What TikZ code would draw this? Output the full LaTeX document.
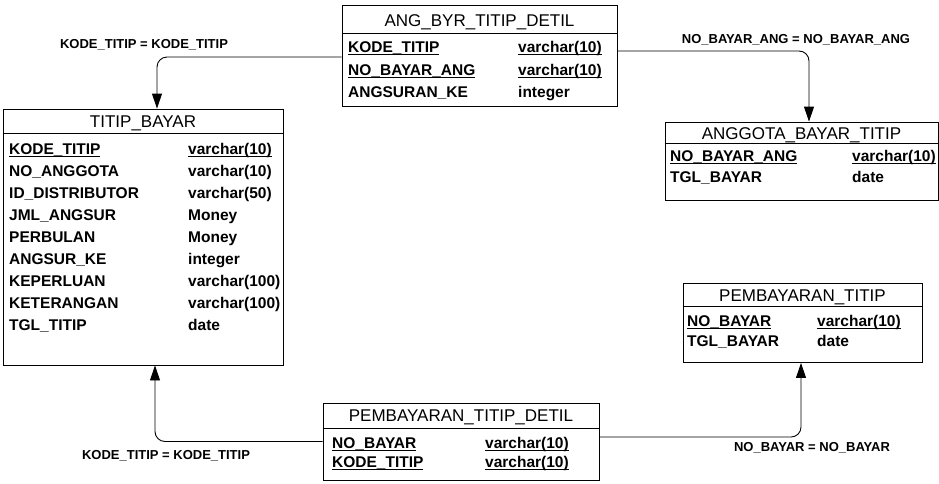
\documentclass[tikz,border=0pt]{standalone}
\usepackage{fontspec}
\setmainfont{Liberation Sans}
\usetikzlibrary{arrows.meta}
\newcommand\ulx[1]{\setbox0\hbox{#1}\rlap{\vrule width \wd0 height -1.6pt depth 2.7pt}\box0}
\begin{document}
\begin{tikzpicture}[x=1pt,y=-1pt,
  tbl/.style={draw, line width=0.9pt, inner sep=0pt, rectangle},
  ttl/.style={font=\fontsize{17}{19}\selectfont, inner sep=0pt, text height=12.2pt, text depth=0pt},
  fld/.style={font=\bfseries\fontsize{15.5}{18}\selectfont, anchor=west, inner sep=0pt, text height=11pt, text depth=0pt},
  lbl/.style={font=\bfseries\fontsize{13}{15}\selectfont, inner sep=0pt, text height=9.3pt, text depth=0pt},
  sepline/.style={line width=0.9pt},
  rel/.style={line width=0.9pt, rounded corners=10pt, -{Triangle[width=10pt,length=15pt]}}]
\useasboundingbox (0,0) rectangle (939,483);

% ANG_BYR_TITIP_DETIL
\node[tbl, minimum width=275pt, minimum height=101pt] (ang) at (479.5,55.5) {};
\draw[sepline] (ang.west |- 0,33) -- (ang.east |- 0,33);
\node[ttl] (angt) at (479.5,20) {ANG\_BYR\_TITIP\_DETIL};
\node[fld] (ang1) at (348,47) {\ulx{KODE\_TITIP}};
\node[fld] (ang1t) at (518,47) {\ulx{varchar(10)}};
\node[fld] (ang2) at (348,70) {\ulx{NO\_BAYAR\_ANG}};
\node[fld] (ang2t) at (518,70) {\ulx{varchar(10)}};
\node[fld] (ang3) at (348,92) {ANGSURAN\_KE};
\node[fld] (ang3t) at (518,92) {integer};

% TITIP_BAYAR
\node[tbl, minimum width=280pt, minimum height=256pt] (tb) at (143,237) {};
\draw[sepline] (tb.west |- 0,133) -- (tb.east |- 0,133);
\node[ttl] (tbt) at (143,121) {TITIP\_BAYAR};
\node[fld] (tb1) at (9,149) {\ulx{KODE\_TITIP}};
\node[fld] (tb1t) at (188,149) {\ulx{varchar(10)}};
\node[fld] (tb2) at (9,171) {NO\_ANGGOTA};
\node[fld] (tb2t) at (188,171) {varchar(10)};
\node[fld] (tb3) at (9,193) {ID\_DISTRIBUTOR};
\node[fld] (tb3t) at (188,193) {varchar(50)};
\node[fld] (tb4) at (9,215) {JML\_ANGSUR};
\node[fld] (tb4t) at (188,215) {Money};
\node[fld] (tb5) at (9,237) {PERBULAN};
\node[fld] (tb5t) at (188,237) {Money};
\node[fld] (tb6) at (9,259) {ANGSUR\_KE};
\node[fld] (tb6t) at (188,259) {integer};
\node[fld] (tb7) at (9,281) {KEPERLUAN};
\node[fld] (tb7t) at (188,281) {varchar(100)};
\node[fld] (tb8) at (9,303) {KETERANGAN};
\node[fld] (tb8t) at (188,303) {varchar(100)};
\node[fld] (tb9) at (9,325) {TGL\_TITIP};
\node[fld] (tb9t) at (188,325) {date};

% ANGGOTA_BAYAR_TITIP
\node[tbl, minimum width=273pt, minimum height=78pt] (ag) at (801.5,161) {};
\draw[sepline] (ag.west |- 0,143) -- (ag.east |- 0,143);
\node[ttl] (agt) at (801.5,133) {ANGGOTA\_BAYAR\_TITIP};
\node[fld] (ag1) at (670,156) {\ulx{NO\_BAYAR\_ANG}};
\node[fld] (ag1t) at (852,156) {\ulx{varchar(10)}};
\node[fld] (ag2) at (670,177) {TGL\_BAYAR};
\node[fld] (ag2t) at (852,177) {date};

% PEMBAYARAN_TITIP
\node[tbl, minimum width=239pt, minimum height=79pt] (pt) at (802.5,323) {};
\draw[sepline] (pt.west |- 0,306) -- (pt.east |- 0,306);
\node[ttl] (ptt) at (802.5,295) {PEMBAYARAN\_TITIP};
\node[fld] (pt1) at (687,321) {\ulx{NO\_BAYAR}};
\node[fld] (pt1t) at (817,321) {\ulx{varchar(10)}};
\node[fld] (pt2) at (687,341) {TGL\_BAYAR};
\node[fld] (pt2t) at (817,341) {date};

% PEMBAYARAN_TITIP_DETIL
\node[tbl, minimum width=276pt, minimum height=77pt] (det) at (461,441.5) {};
\draw[sepline] (det.west |- 0,428) -- (det.east |- 0,428);
\node[ttl] (dett) at (461,415) {PEMBAYARAN\_TITIP\_DETIL};
\node[fld] (det1) at (332,443) {\ulx{NO\_BAYAR}};
\node[fld] (det1t) at (485,443) {\ulx{varchar(10)}};
\node[fld] (det2) at (332,462) {\ulx{KODE\_TITIP}};
\node[fld] (det2t) at (485,462) {\ulx{varchar(10)}};

% relationships
\draw[rel] ([yshift=-1.5pt]ang.west) -| ([xshift=14pt]tb.north);
\draw[rel] ([yshift=4.5pt]ang.east) -| ([xshift=7.5pt]ag.north);
\draw[rel] (det.west) -| ([xshift=12pt]tb.south);
\draw[rel] ([yshift=4.5pt]det.east) -| ([xshift=-1.5pt]pt.south);

\node[lbl] (l1) at (144,44) {KODE\_TITIP = KODE\_TITIP};
\node[lbl] (l2) at (796,39) {NO\_BAYAR\_ANG = NO\_BAYAR\_ANG};
\node[lbl] (l3) at (166,455) {KODE\_TITIP = KODE\_TITIP};
\node[lbl] (l4) at (812,447) {NO\_BAYAR = NO\_BAYAR};
\end{tikzpicture}
\end{document}
